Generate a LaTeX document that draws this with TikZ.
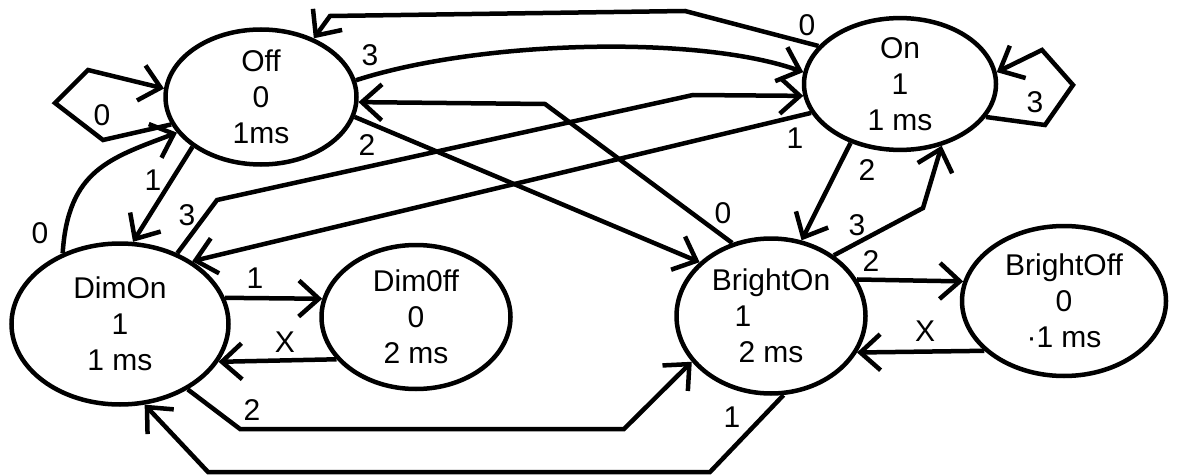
\documentclass[tikz,border=0pt]{standalone}
\usepackage{fontspec}
\setmainfont{Liberation Sans}
\usetikzlibrary{shapes.geometric,arrows.meta}

\begin{document}
\begin{tikzpicture}[x=1pt,y=-1pt,
            state/.style={draw,ellipse,line width=4.5pt,inner sep=0pt,align=center,
                font=\fontsize{30}{36}\selectfont},
            tr/.style={line width=4.5pt,-{Straight Barb[length=20pt,width=36pt]}},
            lbl/.style={inner sep=0pt,font=\fontsize{30}{36}\selectfont}]

            \useasboundingbox (0,0) rectangle (1177,476);

            \node[state,minimum width=191pt,minimum height=135pt] (off) at (261,97) {Off\\0\\1ms};
            \node[state,minimum width=192pt,minimum height=122pt] (on) at (900,84) {On\\1\\1 ms};
            \node[state,minimum width=217pt,minimum height=161pt] (dimon) at (120,324) {DimOn\\1\\1 ms};
            \node[state,minimum width=189pt,minimum height=144pt] (dimoff) at (416,317) {Dim0ff\\0\\2 ms};
            \node[state,minimum width=189pt,minimum height=155pt] (brighton) at (771,316) {BrightOn\\1\rule{56pt}{0pt}\\2 ms};
            \node[state,minimum width=204pt,minimum height=150pt] (brightoff) at (1064,301) {BrightOff\\0\\·1 ms};

            \draw[tr] (off.197) -- (103,140) -- (55,103) -- (88,70) -- (off.175);
            \draw[tr] (on.339) -- (1045,125) -- (1073,85) -- (1042,50) -- (on.7);
            \draw[tr] (off.10) .. controls (480,40) and (700,35) .. (on.173);
            \draw[tr] (on.155) -- (685,11) -- (330,16) -- (off.48);
            \draw[tr] (brighton.118) -- (545,104) -- (off.357);
            \draw[tr] (off.348) -- (brighton.143);
            \draw[tr] (dimon.51) -- (217,200) -- (693,95) -- (on.187);
            \draw[tr] (on.198) -- (dimon.41);
            \draw[tr] (off.216) -- (dimon.81);
            \draw[tr] (dimon.129) .. controls (68,170) and (110,158) .. (off.203);
            \draw[tr] (dimon.14) -- (dimoff.169);
            \draw[tr] (dimoff.208) -- (dimon.339);
            \draw[tr] (dimon.316) -- (240,429) -- (624,429) -- (brighton.210);
            \draw[tr] (brighton.279) -- (710,472) -- (208,472) -- (dimon.287);
            \draw[tr] (on.230) -- (brighton.68);
            \draw[tr] (brighton.44) -- (923,208) -- (on.304);
            \draw[tr] (brighton.23) -- (brightoff.169);
            \draw[tr] (brightoff.212) -- (brighton.337);

            \node[lbl] (offloop) at (102,115) {0};
            \node[lbl] (offon) at (370,55) {3};
            \node[lbl] (offbr) at (367,145) {2};
            \node[lbl] (offdim) at (153,180) {1};
            \node[lbl] (dimon3) at (187,215) {3};
            \node[lbl] (dimoff0) at (40,233) {0};
            \node[lbl] (onoff) at (807,25) {0};
            \node[lbl] (onloop) at (1035,102) {3};
            \node[lbl] (ondim) at (795,138) {1};
            \node[lbl] (onbr) at (867,170) {2};
            \node[lbl] (bron) at (857,225) {3};
            \node[lbl] (brbroff) at (871,261) {2};
            \node[lbl] (broff) at (723,213) {0};
            \node[lbl] (dimdoff) at (255,278) {1};
            \node[lbl] (doffdim) at (285,342) {X};
            \node[lbl] (dimbr) at (252,410) {2};
            \node[lbl] (brdim) at (732,417) {1};
            \node[lbl] (broffbr) at (925,331) {X};
        \end{tikzpicture}
\end{document}
